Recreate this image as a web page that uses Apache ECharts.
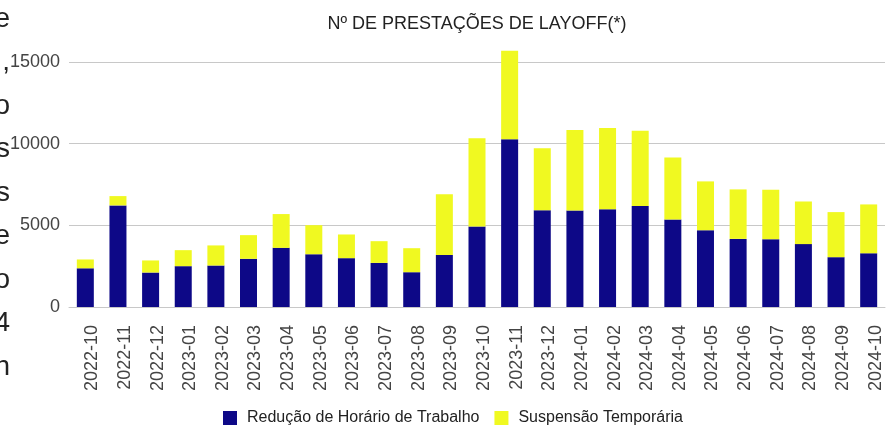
<!DOCTYPE html>
<html>
<head>
<meta charset="utf-8">
<script src="https://cdn.jsdelivr.net/npm/echarts@6/dist/echarts.min.js"></script>
<style>
  html, body { margin: 0; padding: 0; background: #fff; }
  #chart { width: 894px; height: 428px; }
</style>
</head>
<body>
<div id="chart"></div>
<script>
  // meses
  var meses = ['2022-10', '2022-11', '2022-12', '2023-01', '2023-02', '2023-03', '2023-04', '2023-05',
    '2023-06', '2023-07', '2023-08', '2023-09', '2023-10', '2023-11', '2023-12', '2024-01', '2024-02',
    '2024-03', '2024-04', '2024-05', '2024-06', '2024-07', '2024-08', '2024-09', '2024-10'];
  var reducao = [2370, 6220, 2110, 2500, 2540, 2950, 3620, 3230, 2990, 2700, 2130, 3190, 4930,
    10270, 5930, 5910, 5990, 6180, 5360, 4700, 4170, 4150, 3850, 3050, 3290];
  var suspensao = [540, 570, 740, 980, 1230, 1450, 2070, 1780, 1450, 1330, 1470, 3710, 5400,
    5420, 3790, 4930, 4970, 4610, 3800, 2990, 3030, 3030, 2610, 2760, 2990];
  var yTicks = [0, 5000, 10000, 15000];
  // texto cortado à esquerda (fim das linhas do parágrafo vizinho)
  var margemTexto = ['e', ',', 'o', 's', 's', 'e', 'o', '4', 'n'];

  var fonte = '"Liberation Sans", Arial, sans-serif';
  var myChart = echarts.init(document.getElementById('chart'));

  var option = {
    animation: false,
    color: ['#0d0887', '#f0f921'],
    textStyle: { fontFamily: fonte },
    title: {
      text: 'Nº DE PRESTAÇÕES DE LAYOFF(*)',
      left: 477,
      top: 15,
      padding: 0,
      textAlign: 'center',
      textStyle: { fontFamily: fonte, fontSize: 18, fontWeight: 'normal', color: '#222' }
    },
    legend: {
      left: 223,
      top: 410,
      icon: 'rect',
      itemWidth: 14,
      itemHeight: 14,
      itemGap: 15,
      padding: 0,
      textStyle: { fontFamily: fonte, fontSize: 16, color: '#222', padding: [0, 0, 0, 5] }
    },
    grid: { left: 69, right: 9, top: 62, bottom: 121 },
    xAxis: {
      type: 'category',
      data: meses,
      axisTick: { show: false },
      axisLine: { lineStyle: { color: '#c8c8c8' } },
      axisLabel: {
        rotate: 90,
        margin: 18,
        fontSize: 18,
        lineHeight: 14,
        verticalAlign: 'top',
        color: '#444',
        fontFamily: fonte
      }
    },
    yAxis: {
      type: 'value',
      min: yTicks[0],
      max: yTicks[yTicks.length - 1],
      interval: 5000,
      axisLine: { show: false },
      axisTick: { show: false },
      axisLabel: {
        fontSize: 18,
        color: '#444',
        margin: 9,
        fontFamily: fonte,
        formatter: function (v) { return String(v); }
      },
      splitLine: { lineStyle: { color: '#c8c8c8' } }
    },
    graphic: margemTexto.map(function (c, i) {
      return {
        type: 'text',
        x: 10,
        y: 33 + 43.5 * i,
        style: { text: c, fontSize: 28, fontFamily: fonte, fill: '#222', align: 'right', verticalAlign: 'bottom' }
      };
    }),
    series: [
      {
        name: 'Redução de Horário de Trabalho',
        type: 'bar',
        stack: 'total',
        barWidth: 17,
        clip: false,
        data: reducao
      },
      {
        name: 'Suspensão Temporária',
        type: 'bar',
        stack: 'total',
        barWidth: 17,
        clip: false,
        data: suspensao
      }
    ]
  };
  myChart.setOption(option);
</script>
</body>
</html>
